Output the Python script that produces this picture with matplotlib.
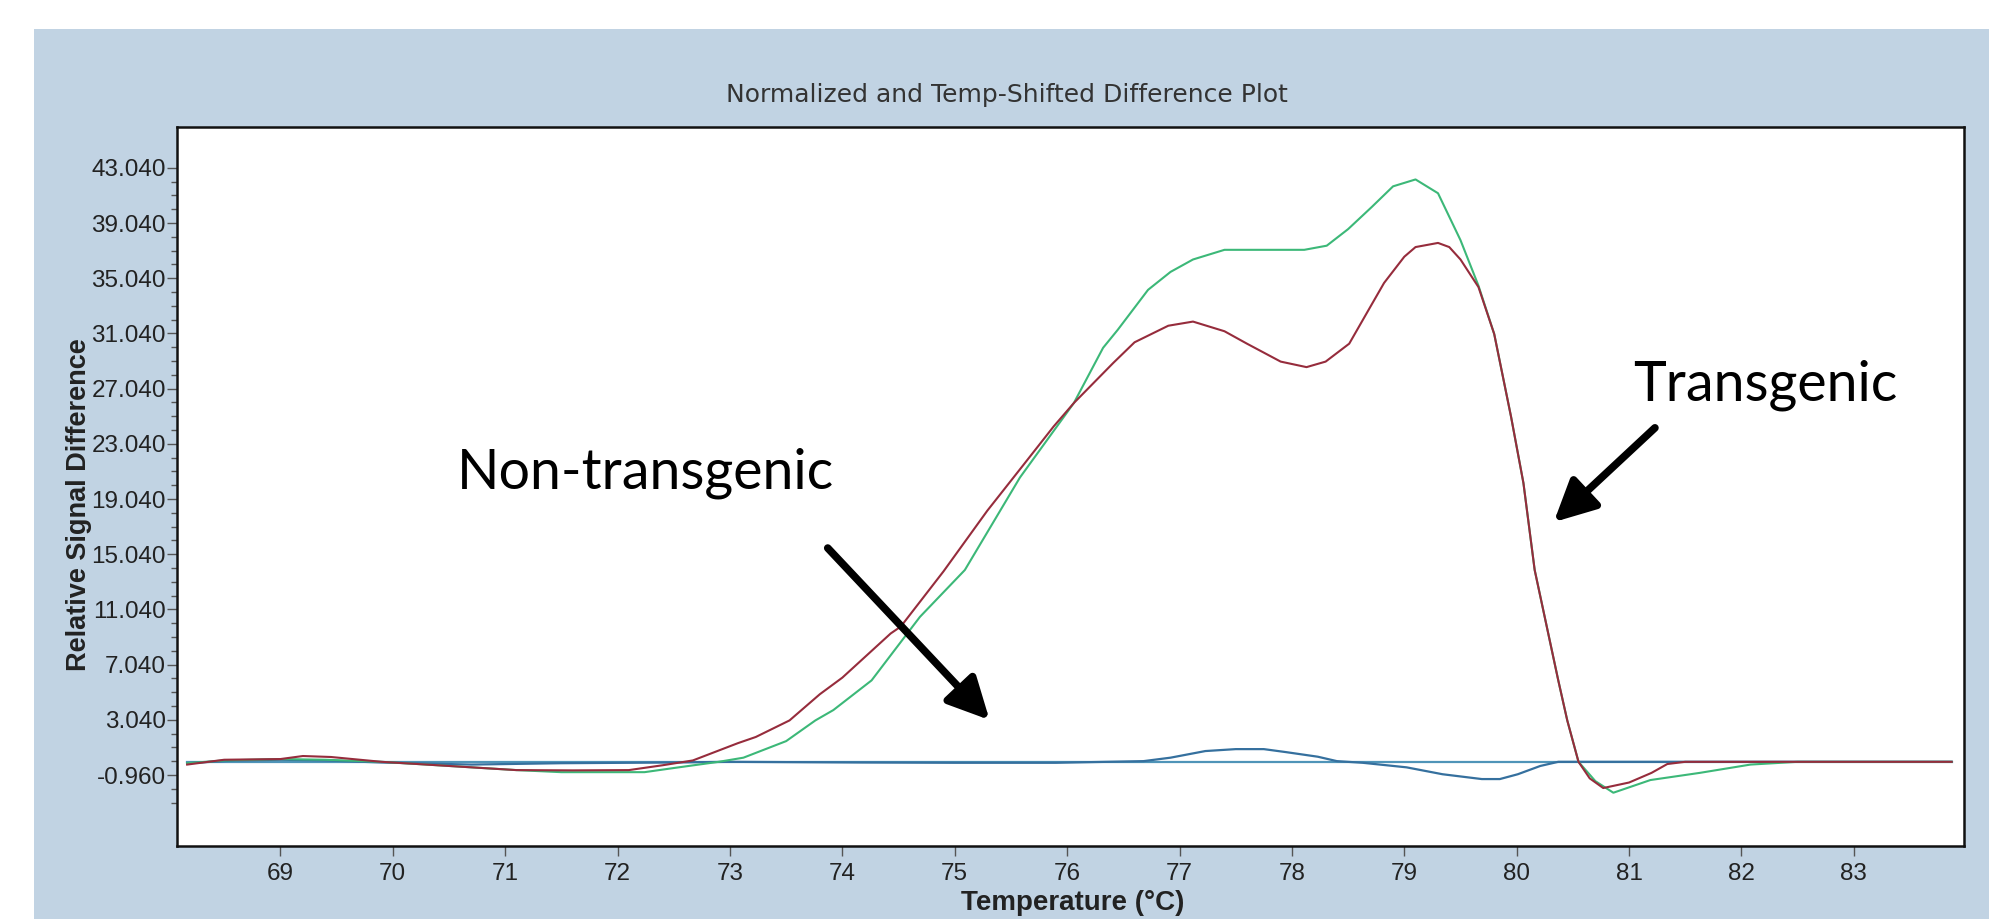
import matplotlib.pyplot as plt
from matplotlib.patches import Rectangle
from matplotlib.ticker import FixedLocator

# temperature (C) / relative signal difference
red_t = [68.17, 68.5, 69.0, 69.2, 69.45, 69.9, 70.3, 70.7, 71.1, 71.6, 72.1, 72.4,
         72.67, 73.07, 73.23, 73.53, 73.8, 74.0, 74.43, 74.52, 74.9, 75.29, 75.6,
         75.88, 76.06, 76.41, 76.6, 76.9, 77.12, 77.4, 77.6, 77.9, 78.13, 78.3,
         78.51, 78.7, 78.82, 79.0, 79.1, 79.3, 79.4, 79.5, 79.66, 79.8, 79.95, 80.06,
         80.16, 80.37, 80.45, 80.55, 80.65, 80.77, 81.0, 81.2, 81.34, 81.5, 83.87]
red_v = [-0.2, 0.15, 0.2, 0.42, 0.35, 0.0, -0.2, -0.4, -0.6, -0.62, -0.6, -0.25,
         0.1, 1.35, 1.8, 3.0, 4.9, 6.1, 9.3, 9.8, 13.8, 18.2, 21.4,
         24.3, 26.0, 28.9, 30.4, 31.6, 31.9, 31.2, 30.3, 29.0, 28.6, 29.0,
         30.3, 33.0, 34.7, 36.6, 37.3, 37.6, 37.3, 36.4, 34.4, 31.0, 25.0, 20.2,
         13.9, 5.9, 3.0, 0.0, -1.2, -1.9, -1.5, -0.8, -0.16, 0.0, 0.0]

green_t = [68.17, 68.5, 69.0, 69.4, 69.9, 70.3, 70.7, 71.1, 71.5, 72.24, 72.5,
           72.9, 73.12, 73.5, 73.76, 73.92, 74.26, 74.69, 75.09, 75.58, 76.06,
           76.32, 76.45, 76.72, 76.92, 77.12, 77.4, 77.8, 78.11, 78.31, 78.5,
           78.71, 78.9, 79.1, 79.3, 79.5, 79.66, 79.8, 79.95, 80.06, 80.16, 80.37,
           80.45, 80.55, 80.7, 80.86, 81.19, 81.63, 82.08, 82.5, 83.87]
green_v = [-0.1, 0.1, 0.2, 0.15, 0.0, -0.2, -0.4, -0.6, -0.75, -0.75, -0.45,
           0.0, 0.3, 1.5, 3.0, 3.75, 5.9, 10.5, 13.9, 20.6, 26.0,
           30.0, 31.3, 34.2, 35.5, 36.4, 37.1, 37.1, 37.1, 37.4, 38.6,
           40.2, 41.7, 42.2, 41.2, 37.8, 34.5, 31.0, 25.0, 20.2, 13.9, 5.9,
           3.0, 0.0, -1.4, -2.24, -1.32, -0.8, -0.2, 0.0, 0.0]

blue_t = [68.17, 68.6, 69.0, 69.4, 69.9, 70.7, 71.5, 72.5, 73.0, 74.17, 75.0,
          75.9, 76.68, 76.92, 77.23, 77.5, 77.75, 77.95, 78.23, 78.4, 78.63,
          79.02, 79.34, 79.69, 79.85, 80.01, 80.21, 80.37, 81.5, 83.87]
blue_v = [-0.1, 0.1, 0.15, 0.1, -0.05, -0.2, -0.1, -0.05, 0.0, -0.05, -0.07,
          -0.07, 0.05, 0.3, 0.78, 0.92, 0.92, 0.7, 0.37, 0.05, -0.07,
          -0.4, -0.9, -1.25, -1.25, -0.9, -0.3, 0.0, 0.0, 0.0]

base_t = [68.17, 83.87]
base_v = [0.0, 0.0]

y_ticks = [-0.96, 3.04, 7.04, 11.04, 15.04, 19.04, 23.04, 27.04, 31.04, 35.04, 39.04, 43.04]
y_minor = [-2.96 + i for i in range(47)]
x_ticks = list(range(69, 84))

panel = '#c1d3e3'

fig = plt.figure(figsize=(19.9, 9.19), dpi=100)
fig.patches.append(Rectangle((34 / 1990, 0), 1, 1 - 29 / 919, transform=fig.transFigure,
                             facecolor=panel, edgecolor='none', zorder=-10))

ax = fig.add_axes([177 / 1990, 1 - 846 / 919, (1964 - 177) / 1990, (846 - 127) / 919])
ax.set_facecolor('white')

ax.plot(base_t, base_v, color='#4f94b8', lw=1.6, zorder=2)
ax.plot(blue_t, blue_v, color='#35709e', lw=1.6, zorder=3)
ax.plot(green_t, green_v, color='#3cb878', lw=1.5, zorder=4)
ax.plot(red_t, red_v, color='#962c3c', lw=1.5, zorder=5)

ax.set_xlim(68.08, 83.98)
ax.set_ylim(-6.1, 46.0)

ax.set_yticks(y_ticks)
ax.set_yticklabels([f'{v:.3f}' for v in y_ticks])
ax.yaxis.set_minor_locator(FixedLocator(y_minor))
ax.set_xticks(x_ticks)

for s in ax.spines.values():
    s.set_linewidth(1.8)
    s.set_color('#111111')

ax.tick_params(axis='y', which='major', length=7, width=1, pad=1, labelsize=17.5,
               labelcolor='#222222', color='#555555')
ax.tick_params(axis='y', which='minor', length=4, width=1, color='#555555')
ax.tick_params(axis='x', which='major', length=7, width=1, pad=5, labelsize=17.5,
               labelcolor='#222222', color='#555555')
for lab in ax.get_xticklabels() + ax.get_yticklabels():
    lab.set_fontfamily('Liberation Sans')

fig.text(1007 / 1990, 1 - 95 / 919, 'Normalized and Temp-Shifted Difference Plot',
         ha='center', va='center', fontsize=18, color='#333333', family='DejaVu Sans')
fig.text(79 / 1990, 1 - 505 / 919, 'Relative Signal Difference', rotation=90,
         ha='center', va='center', fontsize=19.5, fontweight='bold',
         family='Liberation Sans', color='#222222')
fig.text(1073 / 1990, 1 - 903 / 919, 'Temperature (°C)', ha='center', va='center',
         fontsize=20, fontweight='bold', family='Liberation Sans', color='#222222')

ax.text(70.57, 19.84, 'Non-transgenic', fontsize=40, family='Lato', va='baseline',
        ha='left', color='black', zorder=6)
ax.text(81.04, 26.2, 'Transgenic', fontsize=40, family='Lato', va='baseline',
        ha='left', color='black', zorder=6)

arrow = dict(arrowstyle='-|>,head_length=1.0,head_width=0.5', lw=5.5,
             color='black', mutation_scale=25, shrinkA=0, shrinkB=0)
ax.annotate('', xy=(75.31, 3.03), xytext=(73.87, 15.49), arrowprops=arrow, zorder=6)
ax.annotate('', xy=(80.33, 17.37), xytext=(81.23, 24.2), arrowprops=arrow, zorder=6)

fig.savefig('out.png', dpi=100, facecolor='white')
